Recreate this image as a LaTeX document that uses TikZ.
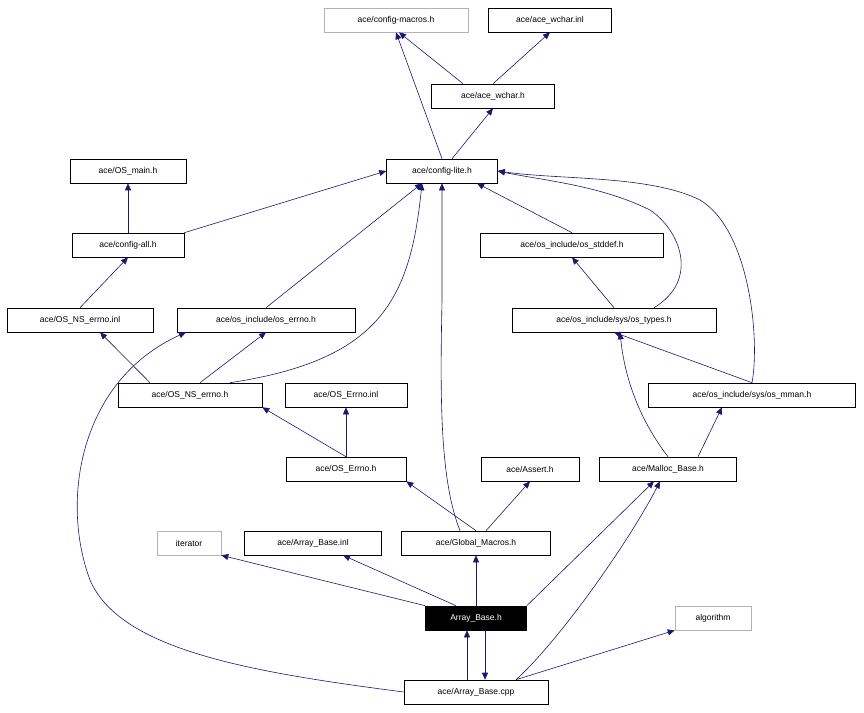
\documentclass[tikz,border=0pt]{standalone}
\usepackage{fontspec}
\setmainfont{Liberation Sans}
\usetikzlibrary{arrows.meta}
\definecolor{edge}{HTML}{191970}
\begin{document}
\begin{tikzpicture}[x=1pt,y=-1pt,
 n/.style={draw=black,fill=white,font=\fontsize{8.5}{10}\selectfont,inner sep=0pt,minimum height=24pt,line width=0.6pt},
 g/.style={n,draw=gray!60},
 e/.style={draw=edge,line width=0.6pt,-{Triangle[length=7pt,width=6pt]}}]
\useasboundingbox (0,0) rectangle (864,712);
\node[g,minimum width=144pt] (cm) at (396,20) {ace/config-macros.h};
\node[n,minimum width=123pt] (wi) at (550,20) {ace/ace\_wchar.inl};
\node[n,minimum width=123pt] (wh) at (493,96) {ace/ace\_wchar.h};
\node[n,minimum width=111pt] (cl) at (442,171) {ace/config-lite.h};
\node[n,minimum width=116pt] (om) at (128,171) {ace/OS\_main.h};
\node[n,minimum width=112pt] (ca) at (128,245) {ace/config-all.h};
\node[n,minimum width=183pt] (sd) at (572,245) {ace/os\_include/os\_stddef.h};
\node[n,minimum width=146pt] (nei) at (80,320) {ace/OS\_NS\_errno.inl};
\node[n,minimum width=178pt] (oe) at (266,320) {ace/os\_include/os\_errno.h};
\node[n,minimum width=204pt] (ot) at (614,320) {ace/os\_include/sys/os\_types.h};
\node[n,minimum width=144pt] (neh) at (190,395) {ace/OS\_NS\_errno.h};
\node[n,minimum width=122pt] (ei) at (346,395) {ace/OS\_Errno.inl};
\node[n,minimum width=207pt] (mm) at (752,395) {ace/os\_include/sys/os\_mman.h};
\node[n,minimum width=120pt] (eh) at (346,469) {ace/OS\_Errno.h};
\node[n,minimum width=98pt] (as) at (530,469) {ace/Assert.h};
\node[n,minimum width=137pt] (mb) at (668,469) {ace/Malloc\_Base.h};
\node[g,minimum width=64pt] (it) at (189,543) {iterator};
\node[n,minimum width=137pt] (abi) at (313,543) {ace/Array\_Base.inl};
\node[n,minimum width=149pt] (gm) at (476,543) {ace/Global\_Macros.h};
\node[n,fill=black,text=white,minimum width=101pt] (ab) at (476,618) {Array\_Base.h};
\node[g,minimum width=76pt] (al) at (713,618) {algorithm};
\node[n,minimum width=144pt] (cpp) at (476,692) {ace/Array\_Base.cpp};
% edges
\draw[e] ([xshift=-9pt]cpp.north) -- ([xshift=-9pt]ab.south);
\draw[e] ([xshift=9pt]ab.south) -- ([xshift=9pt]cpp.north);
\draw[e] ([xshift=40pt]cpp.north) -- (al.south west);
\draw[e] ([xshift=40pt]cpp.north) .. controls (560,640) and (630,540) .. ([xshift=-8pt]mb.south);
\draw[e] (cpp.west) .. controls (250,672) and (120,650) .. (90,580) .. controls (60,500) and (80,380) .. ([xshift=-80pt]oe.south);
\draw[e] (ab.north west) -- (it.south east);
\draw[e] ([xshift=-20pt]ab.north) -- ([xshift=30pt]abi.south);
\draw[e] (ab.north) -- (gm.south);
\draw[e] (ab.north east) -- ([xshift=-14pt]mb.south);
\draw[e] (gm.north) -- (eh.south east);
\draw[e] ([xshift=10pt]gm.north) -- (as.south);
\draw[e] ([xshift=-16pt]gm.north) .. controls (440,480) and (440,400) .. (442,300) -- (cl.south);
\draw[e] (mb.north) .. controls (640,420) and (625,380) .. ([xshift=6pt]ot.south);
\draw[e] ([xshift=30pt]mb.north) -- ([xshift=-30pt]mm.south);
\draw[e] (eh.north) -- (neh.south east);
\draw[e] (eh.north) -- (ei.south);
\draw[e] ([xshift=40pt]neh.north) .. controls (380,360) and (410,300) .. ([xshift=-20pt]cl.south);
\draw[e] ([xshift=-40pt]neh.north) -- ([xshift=20pt]nei.south);
\draw[e] ([xshift=10pt]neh.north) -- (oe.south);
\draw[e] (mm.north) -- (ot.south);
\draw[e] (mm.north) .. controls (760,340) and (750,230) .. (700,200) .. controls (650,175) and (560,180) .. (cl.east);
\draw[e] ([xshift=40pt]ot.north) .. controls (700,280) and (680,230) .. (650,210) .. controls (600,185) and (540,180) .. (cl.east);
\draw[e] (ot.north) -- (sd.south);
\draw[e] (sd.north) -- ([xshift=35pt]cl.south);
\draw[e] (oe.north) -- ([xshift=-20pt]cl.south);
\draw[e] (nei.north) -- (ca.south);
\draw[e] (ca.north) -- (om.south);
\draw[e] (ca.north east) -- (cl.west);
\draw[e] (cl.north) -- (cm.south);
\draw[e] ([xshift=10pt]cl.north) -- (wh.south);
\draw[e] ([xshift=-30pt]wh.north) -- ([xshift=3pt]cm.south);
\draw[e] (wh.north) -- (wi.south);
\end{tikzpicture}
\end{document}
